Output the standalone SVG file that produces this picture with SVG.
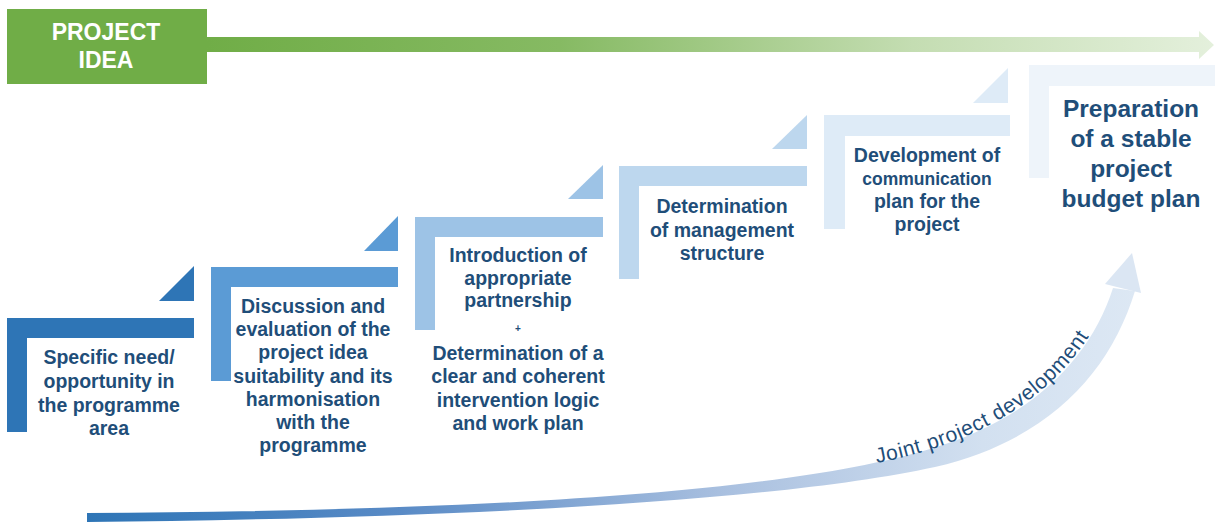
<svg xmlns="http://www.w3.org/2000/svg" width="1215" height="522" viewBox="0 0 1215 522">
<defs>
<linearGradient id="gGreen" x1="207" y1="0" x2="1215" y2="0" gradientUnits="userSpaceOnUse">
<stop offset="0" stop-color="#70AD47"/>
<stop offset="0.35" stop-color="#86BA63"/>
<stop offset="0.7" stop-color="#C4DDB2"/>
<stop offset="1" stop-color="#E4F0DC"/>
</linearGradient>
<linearGradient id="gBlue" x1="87" y1="0" x2="1140" y2="0" gradientUnits="userSpaceOnUse">
<stop offset="0" stop-color="#2E75B6"/>
<stop offset="0.3" stop-color="#5A8BC6"/>
<stop offset="0.6" stop-color="#A8BFDF"/>
<stop offset="0.85" stop-color="#D2E0F0"/>
<stop offset="1" stop-color="#DDE8F4"/>
</linearGradient>
<style>
.t{font-family:"Liberation Sans",Arial,sans-serif;font-weight:bold;fill:#1F4E79;text-anchor:middle;font-size:19.5px}
.big{font-size:24.5px}
.hd{font-family:"Liberation Sans",Arial,sans-serif;font-weight:bold;fill:#FFFFFF;text-anchor:middle;font-size:23px}
.curve{font-family:"Liberation Sans",Arial,sans-serif;fill:#1F4E79;font-size:21px;letter-spacing:0.6px}
</style>
<path id="textCurve" d="M877,463 C950,449 1048,414 1100,318"/>
</defs>

<g id="connectors">
<path d="M207,37 L1199,37 L1199,31 L1214,45 L1199,59 L1199,52 L207,52 Z" fill="url(#gGreen)"/>
<path d="M87,513 C400,511 760,500 930,449 C1030,420 1090,360 1113,288 L1135,291 C1110,372 1050,440 935,467 C760,505 400,519 87,522 Z" fill="url(#gBlue)"/>
<polygon points="1132,253 1105,284 1141,293" fill="#DBE6F3"/>
<text class="curve"><textPath href="#textCurve">Joint project development</textPath></text>
</g>

<g id="project-idea">
<rect x="7" y="9" width="200" height="75" fill="#70AD47"/>
<text class="hd" x="106" y="40">PROJECT</text>
<text class="hd" x="106" y="68">IDEA</text>
</g>

<g id="step1">
<path d="M7,318 L194,318 L194,338 L27,338 L27,432 L7,432 Z" fill="#2E75B6"/>
<polygon points="159,301 194,301 194,266" fill="#2E75B6"/>
<text class="t" x="109" y="364">Specific need/</text>
<text class="t" x="109" y="388">opportunity in</text>
<text class="t" x="109" y="412">the programme</text>
<text class="t" x="109" y="435">area</text>
</g>

<g id="step2">
<path d="M211,267 L398,267 L398,287 L231,287 L231,381 L211,381 Z" fill="#5B9BD5"/>
<polygon points="364,251 398,251 398,216" fill="#5B9BD5"/>
<text class="t" x="313" y="313">Discussion and</text>
<text class="t" x="313" y="336">evaluation of the</text>
<text class="t" x="313" y="359">project idea</text>
<text class="t" x="313" y="383">suitability and its</text>
<text class="t" x="313" y="406">harmonisation</text>
<text class="t" x="313" y="429">with the</text>
<text class="t" x="313" y="452">programme</text>
</g>

<g id="step3">
<path d="M415,217 L603,217 L603,237 L435,237 L435,330 L415,330 Z" fill="#9DC3E6"/>
<polygon points="568,199 603,199 603,165" fill="#9DC3E6"/>
<text class="t" x="518" y="262">Introduction of</text>
<text class="t" x="518" y="285">appropriate</text>
<text class="t" x="518" y="307">partnership</text>
<text class="t" x="518" y="332" style="font-size:10px">+</text>
<text class="t" x="518" y="360">Determination of a</text>
<text class="t" x="518" y="383">clear and coherent</text>
<text class="t" x="518" y="407">intervention logic</text>
<text class="t" x="518" y="430">and work plan</text>
</g>

<g id="step4">
<path d="M619,166 L807,166 L807,186 L639,186 L639,279 L619,279 Z" fill="#BDD7EE"/>
<polygon points="772,149 807,149 807,115" fill="#BDD7EE"/>
<text class="t" x="722" y="213">Determination</text>
<text class="t" x="722" y="237">of management</text>
<text class="t" x="722" y="260">structure</text>
</g>

<g id="step5">
<path d="M824,115 L1010,115 L1010,136 L845,136 L845,229 L824,229 Z" fill="#DEEBF7"/>
<polygon points="973,103 1008,103 1008,68" fill="#DEEBF7"/>
<text class="t" x="927" y="162">Development of</text>
<text class="t" x="927" y="185" style="font-size:17.5px">communication</text>
<text class="t" x="927" y="208">plan for the</text>
<text class="t" x="927" y="231">project</text>
</g>

<g id="step6">
<path d="M1029,65 L1215,65 L1215,86 L1049,86 L1049,178 L1029,178 Z" fill="#EEF4FA"/>
<text class="t big" x="1131" y="117">Preparation</text>
<text class="t big" x="1131" y="147">of a stable</text>
<text class="t big" x="1131" y="177">project</text>
<text class="t big" x="1131" y="207">budget plan</text>
</g>
</svg>
